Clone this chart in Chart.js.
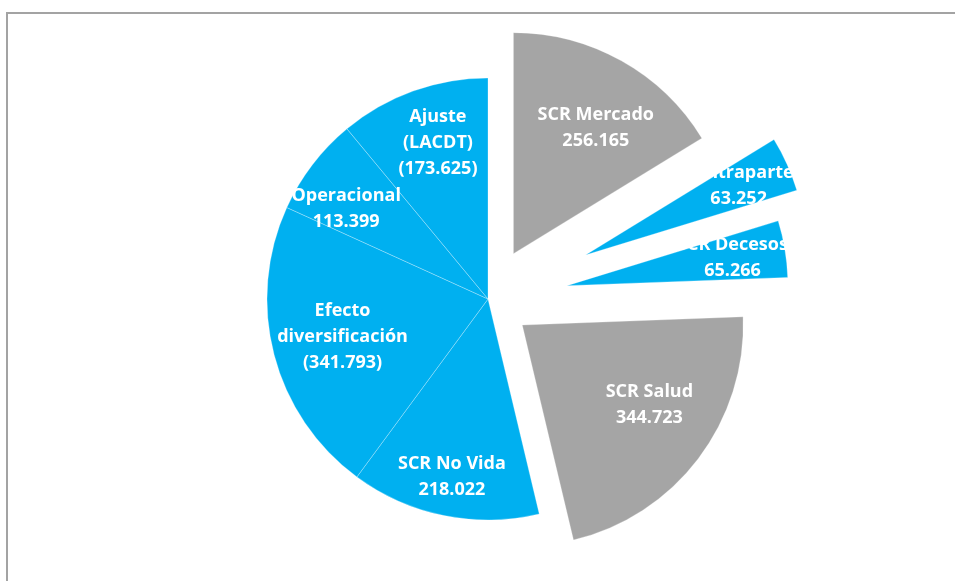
<!DOCTYPE html>
<html lang="es">
<head>
<meta charset="UTF-8">
<title>Composición SCR</title>
<script src="https://cdn.jsdelivr.net/npm/chart.js"></script>
<style>
  body { margin: 0; background: #fff; }
  .wrap { position: relative; width: 955px; height: 581px; overflow: hidden; }
  .frame { position: absolute; left: 6px; top: 12px; right: -10px; bottom: -10px;
           border-left: 2px solid #a3a3a3; border-top: 2px solid #a3a3a3; }
  canvas { position: absolute; left: 0; top: 0; }
</style>
</head>
<body>
<div class="wrap">
  <div class="frame"></div>
  <canvas id="scrChart" width="955" height="581"></canvas>
</div>
<script>
// datos (miles de euros); negativos se muestran entre paréntesis
const categories = [['SCR Mercado'], ['Contraparte'], ['SCR Decesos'], ['SCR Salud'],
                    ['SCR No Vida'], ['Efecto', 'diversificación'], ['Operacional'], ['Ajuste', '(LACDT)']];
const amounts = [256165, 63252, 65266, 344723, 218022, -341793, 113399, -173625];

// estilo
const BLUE = '#00B0F0';
const GRAY = '#A5A5A5';
const sliceColors = [GRAY, BLUE, BLUE, GRAY, BLUE, BLUE, BLUE, BLUE];
const explode = [52, 107, 80, 43, 0, 0, 0, 0];          // px de separación
const labelDist = [0.68, 0.76, 0.76, 0.68, 0.82, 0.68, 0.76, 0.74];
const labelTurn = [4, 0, 0, -5, 0, 0, -5, 2];             // grados

function fmt(n) {
  const s = String(Math.abs(n)).replace(/\B(?=(\d{3})+(?!\d))/g, '.');
  return n < 0 ? '(' + s + ')' : s;
}

const explodePlugin = {
  id: 'explode',
  afterDatasetsUpdate(chart) {
    chart.getDatasetMeta(0).data.forEach((arc, i) => {
      const mid = (arc.startAngle + arc.endAngle) / 2;
      arc.x += Math.cos(mid) * explode[i];
      arc.y += Math.sin(mid) * explode[i];
    });
  }
};

const labelPlugin = {
  id: 'sliceLabels',
  afterDatasetsDraw(chart) {
    const ctx = chart.ctx;
    ctx.save();
    ctx.fillStyle = '#ffffff';
    ctx.font = 'bold 18px "Open Sans", Lato, sans-serif';
    ctx.textAlign = 'center';
    ctx.textBaseline = 'middle';
    chart.getDatasetMeta(0).data.forEach((arc, i) => {
      const mid = (arc.startAngle + arc.endAngle) / 2 + labelTurn[i] * Math.PI / 180;
      const r = arc.outerRadius * labelDist[i];
      const x = arc.x + Math.cos(mid) * r;
      const y = arc.y + Math.sin(mid) * r;
      const lines = categories[i].concat([fmt(amounts[i])]);
      const lh = 26;
      lines.forEach((t, k) => {
        ctx.fillText(t, x, y + (k - (lines.length - 1) / 2) * lh);
      });
    });
    ctx.restore();
  }
};

new Chart(document.getElementById('scrChart'), {
  type: 'pie',
  data: {
    labels: categories.map(c => c.join(' ')),
    datasets: [{
      data: amounts.map(v => Math.abs(v)),
      backgroundColor: sliceColors,
      borderColor: 'rgba(255,255,255,0.35)',
      borderWidth: 0.8
    }]
  },
  options: {
    responsive: false,
    animation: false,
    radius: 221,
    layout: { padding: { left: 21, top: 17, right: 0, bottom: 0 } },
    plugins: {
      legend: { display: false },
      tooltip: { enabled: false }
    }
  },
  plugins: [explodePlugin, labelPlugin]
});
</script>
</body>
</html>
